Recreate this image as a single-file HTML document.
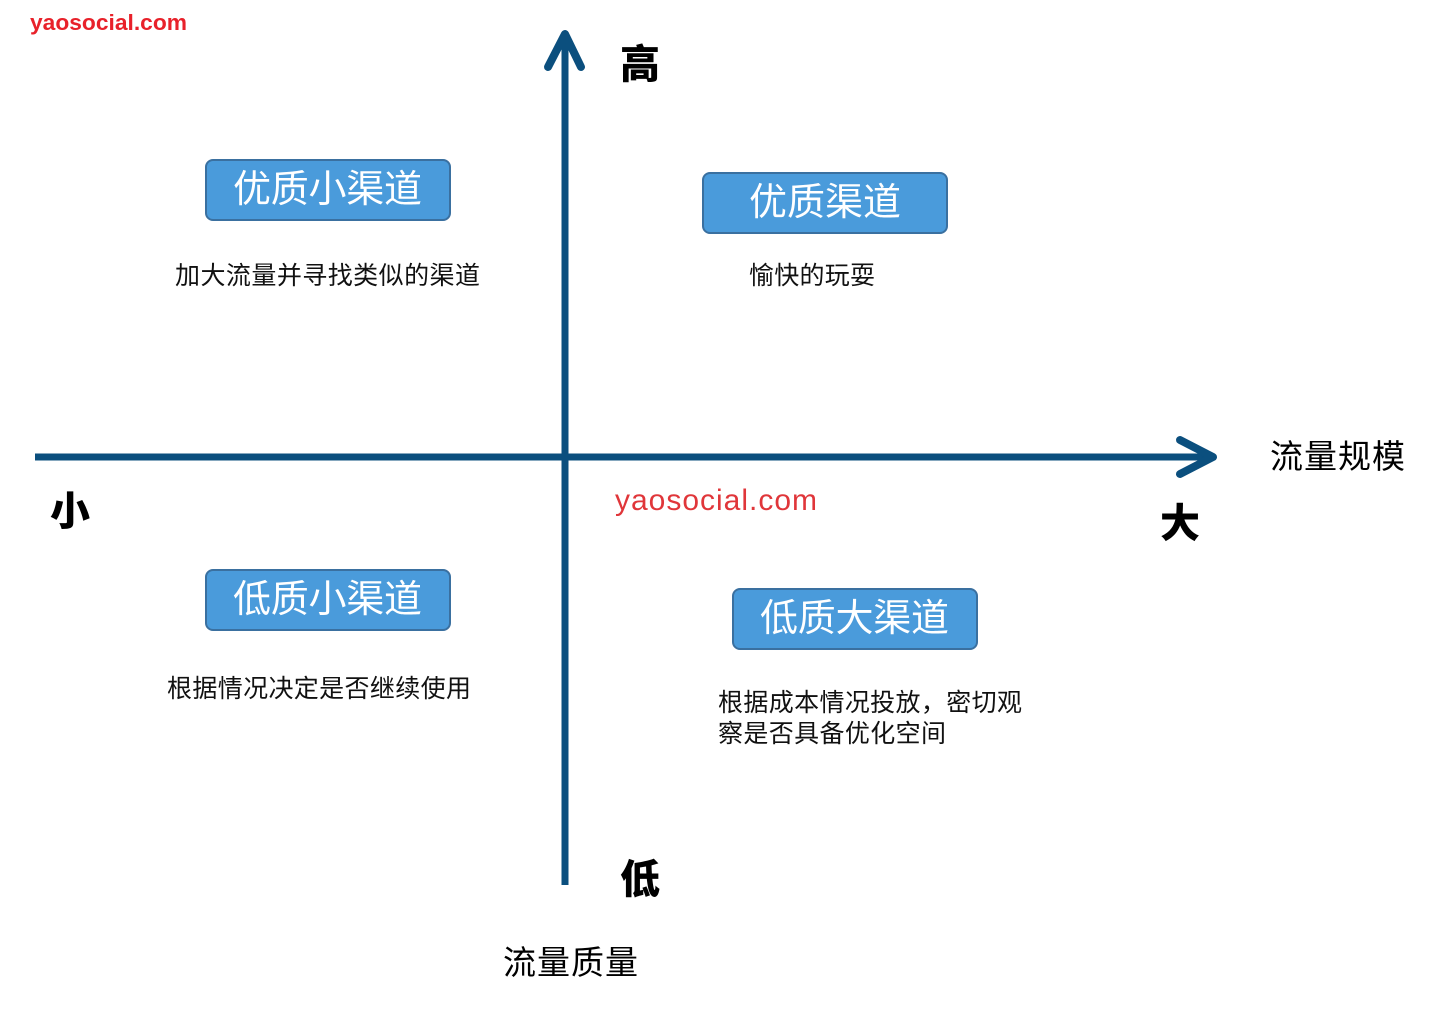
<!DOCTYPE html>
<html><head><meta charset="utf-8"><style>
body{margin:0;background:#fff;width:1434px;height:1004px;overflow:hidden}
svg text{font-family:"Liberation Sans","Noto Sans CJK SC",sans-serif}
</style></head><body>
<svg width="1434" height="1004" xmlns="http://www.w3.org/2000/svg">
<text x="30" y="30" font-size="22" font-weight="bold" fill="#e8212a" textLength="157" lengthAdjust="spacingAndGlyphs">yaosocial.com</text>
<g stroke="#0b4f7e" stroke-width="7" fill="none" stroke-linecap="round" stroke-linejoin="round">
<line x1="565" y1="36" x2="565" y2="885" stroke-linecap="butt"/>
<line x1="35" y1="457" x2="1212" y2="457" stroke-linecap="butt"/>
<polyline points="548,67 565,34 581,67" stroke-width="8"/>
<polyline points="1180,440 1213,457 1180,474" stroke-width="8"/>
</g>
<g font-size="40" font-weight="900" fill="#000">
<text x="620" y="78">高</text>
<text x="50" y="525">小</text>
<text x="1160" y="537">大</text>
<text x="620" y="893">低</text>
</g>
<g font-size="33" fill="#000">
<text x="1270" y="468" textLength="135">流量规模</text>
<text x="503" y="974" textLength="135">流量质量</text>
</g>
<text x="615" y="510" font-size="30" fill="#e0363a" textLength="202">yaosocial.com</text>
<g fill="#4a9bdb" stroke="#3a70a0" stroke-width="2">
<rect x="206" y="160" width="244" height="60" rx="7"/>
<rect x="703" y="173" width="244" height="60" rx="7"/>
<rect x="206" y="570" width="244" height="60" rx="7"/>
<rect x="733" y="589" width="244" height="60" rx="7"/>
</g>
<g font-size="38" fill="#fff">
<text x="233" y="202" textLength="189">优质小渠道</text>
<text x="749" y="215" textLength="152">优质渠道</text>
<text x="233" y="612" textLength="189">低质小渠道</text>
<text x="760" y="631" textLength="189">低质大渠道</text>
</g>
<g font-size="25" fill="#111">
<text x="175" y="284" textLength="305">加大流量并寻找类似的渠道</text>
<text x="749" y="284" textLength="126">愉快的玩耍</text>
<text x="167" y="697" textLength="304">根据情况决定是否继续使用</text>
<text x="718" y="711" textLength="304">根据成本情况投放，密切观</text>
<text x="718" y="742" textLength="228">察是否具备优化空间</text>
</g>
</svg>
</body></html>
